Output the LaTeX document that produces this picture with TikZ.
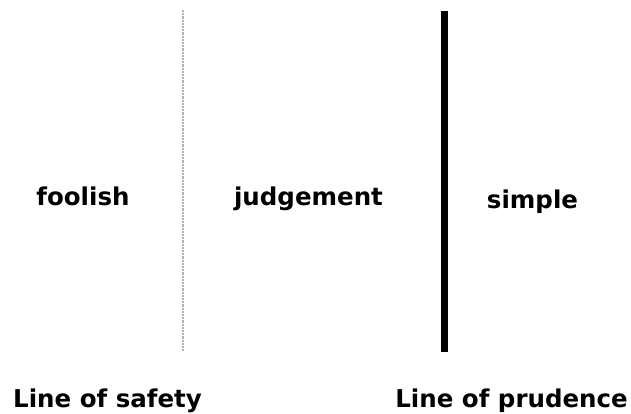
\documentclass[tikz,border=0pt]{standalone}
\usepackage{fontspec}
\setmainfont{DejaVu Sans}
\tikzset{
  lbl/.style={font=\fontsize{24.5}{29}\selectfont\bfseries, inner sep=0pt, text=black},
  safety/.style={draw=gray!60, line width=2.2pt, dash pattern=on 2.2pt off 1pt},
  prudence/.style={draw=black, line width=7.5pt}
}
\begin{document}
\begin{tikzpicture}[x=1pt,y=1pt]
\useasboundingbox (0,0) rectangle (631,-414);
\coordinate (s1) at (183,-10);
\coordinate (s2) at (183,-352);
\coordinate (p1) at (444.5,-11);
\coordinate (p2) at (444.5,-352);
\draw[safety] (s1) -- (s2);
\draw[prudence] (p1) -- (p2);
\node[lbl, anchor=base] (foolish) at (83,-205) {foolish};
\node[lbl, anchor=base] (judgement) at (308.5,-205) {judgement};
\node[lbl, anchor=base] (simple) at (532.5,-208) {simple};
\node[lbl, anchor=base west] (safetylbl) at (13,-407) {Line of safety};
\node[lbl, anchor=base east] (prudencelbl) at (628,-407) {Line of prudence};
\end{tikzpicture}
\end{document}
